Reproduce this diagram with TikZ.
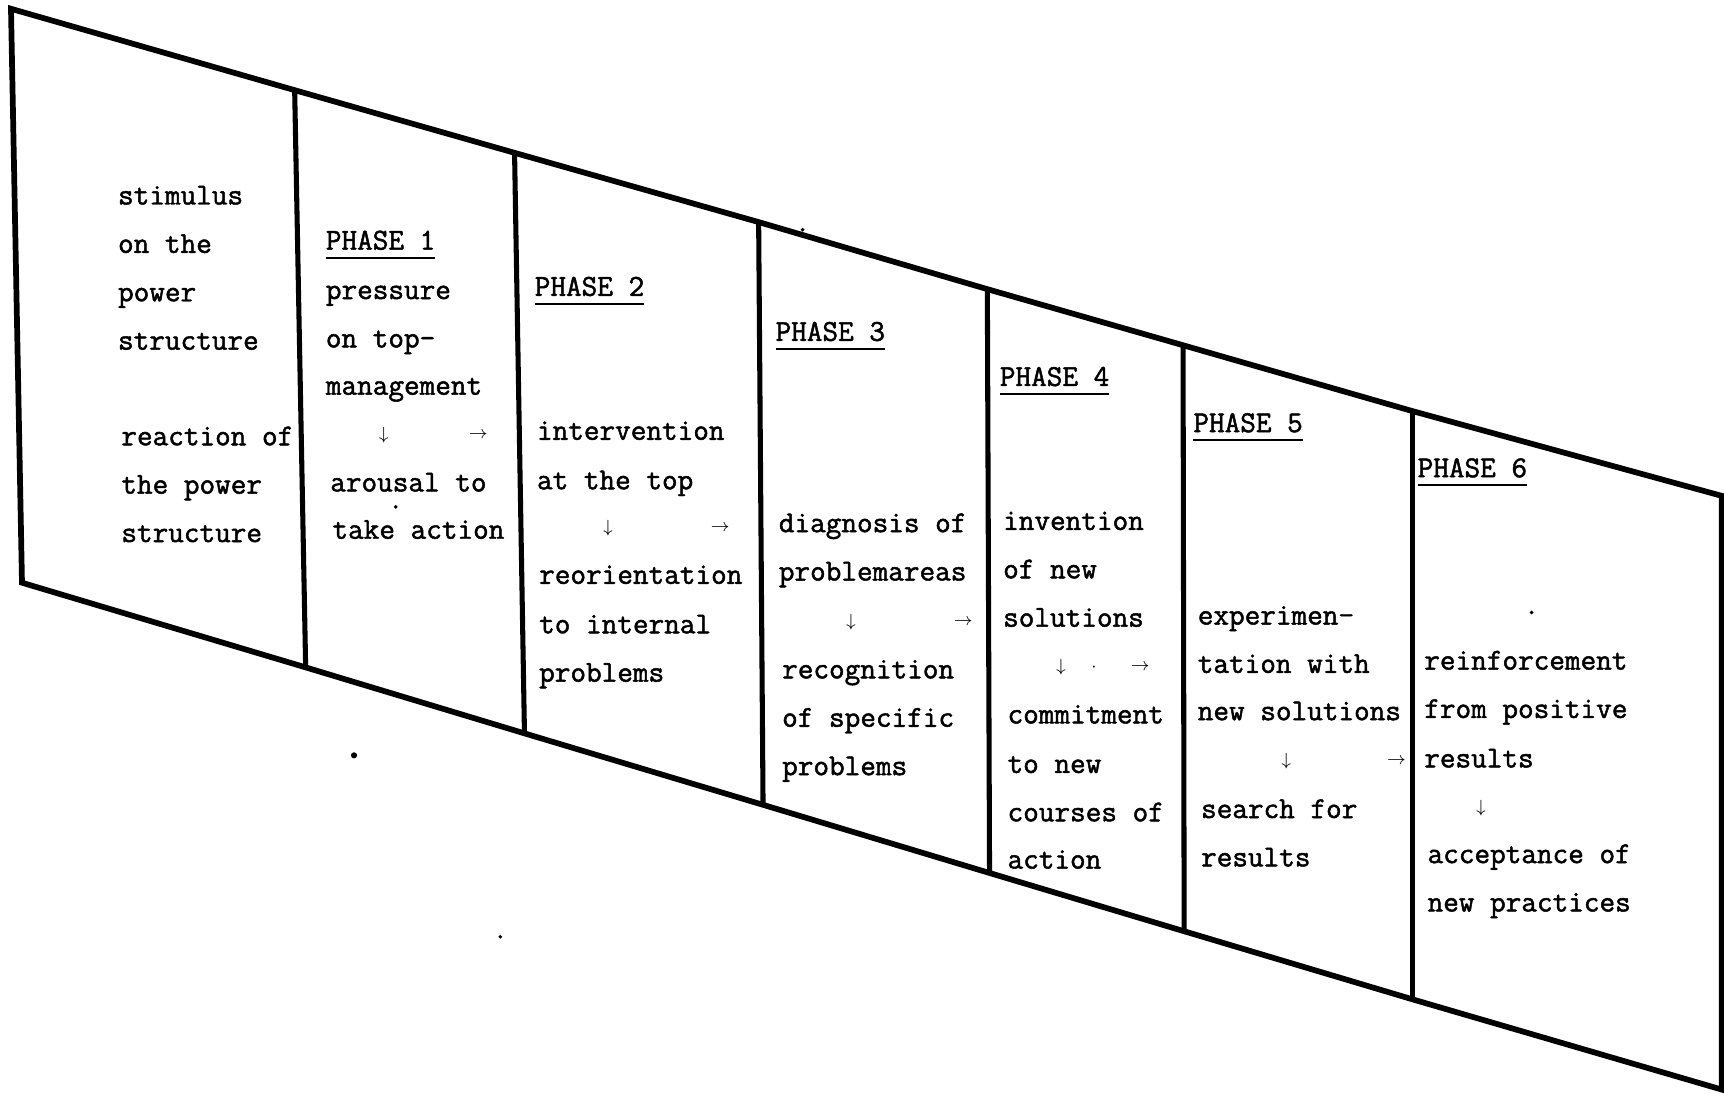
\documentclass[tikz,border=0pt]{standalone}
\usepackage{fontspec}
\newfontfamily\typew[FakeBold=1.6]{Latin Modern Mono}
\newcommand\phaseul[1]{\setbox0\hbox{#1}\rlap{\rule[-4.2pt]{\wd0}{1pt}}\box0}
\begin{document}
\begin{tikzpicture}[x=0.5pt,y=-0.5pt,
  frame/.style={line width=2.6pt, line join=miter},
  divider/.style={line width=2.3pt},
  txt/.style={anchor=base west, inner sep=0pt, font=\typew\fontsize{13.8pt}{22pt}\selectfont},
  phase/.style={txt},
  arr/.style={anchor=center, inner sep=0pt, font=\fontsize{8.5pt}{9pt}\selectfont},
  speck/.style={fill=black, draw=none}]
\useasboundingbox (0,0) rectangle (1568,999);
\clip (0,0) rectangle (1568,999);
% frame corners
\coordinate (t0) at (10,8);
\coordinate (t1) at (268,82);
\coordinate (t2) at (468,139);
\coordinate (t3) at (690,202);
\coordinate (t4) at (898,263);
\coordinate (t5) at (1076,314);
\coordinate (t6) at (1285,374);
\coordinate (t7) at (1566,451);
\coordinate (b0) at (20,530);
\coordinate (b1) at (278,607);
\coordinate (b2) at (477,667);
\coordinate (b3) at (694,732);
\coordinate (b4) at (900,794);
\coordinate (b5) at (1077,847);
\coordinate (b6) at (1285,909);
\coordinate (b7) at (1566,991);
\draw[frame] (t0) -- (t1) -- (t2) -- (t3) -- (t4) -- (t5) -- (t6) -- (t7)
  -- (b7) -- (b6) -- (b5) -- (b4) -- (b3) -- (b2) -- (b1) -- (b0) -- cycle;
\foreach \i in {1,...,6} \draw[divider] (t\i) -- (b\i);
% column 0
\node[txt] (c0a) at (107,186) {stimulus};
\node[txt] (c0b) at (107,230) {on the};
\node[txt] (c0c) at (107,274) {power};
\node[txt] (c0d) at (107,318) {structure};
\node[txt] (c0e) at (110,405) {reaction of};
\node[txt] (c0f) at (110,449) {the power};
\node[txt] (c0g) at (110,493) {structure};
% column 1
\node[phase] (p1) at (296,227) {\phaseul{PHASE 1}};
\node[txt] (c1a) at (296,272) {pressure};
\node[txt] (c1b) at (296,316) {on top-};
\node[txt] (c1c) at (296,359) {management};
\node[arr] (a1d) at (349,396) {$\downarrow$};
\node[arr] (a1r) at (435,396) {$\rightarrow$};
\node[txt] (c1d) at (300,447) {arousal to};
\node[txt] (c1e) at (302,490) {take action};
% column 2
\node[phase] (p2) at (486,269) {\phaseul{PHASE 2}};
\node[txt] (c2a) at (488,400) {intervention};
\node[txt] (c2b) at (488,445) {at the top};
\node[arr] (a2d) at (553,480) {$\downarrow$};
\node[arr] (a2r) at (655,480) {$\rightarrow$};
\node[txt] (c2c) at (490,531) {reorientation};
\node[txt] (c2d) at (490,576) {to internal};
\node[txt] (c2e) at (490,620) {problems};
% column 3
\node[phase] (p3) at (705,310) {\phaseul{PHASE 3}};
\node[txt] (c3a) at (708,484) {diagnosis of};
\node[txt] (c3b) at (708,528) {problemareas};
\node[arr] (a3d) at (774,566) {$\downarrow$};
\node[arr] (a3r) at (876,566) {$\rightarrow$};
\node[txt] (c3c) at (711,617) {recognition};
\node[txt] (c3d) at (711,661) {of specific};
\node[txt] (c3e) at (711,705) {problems};
% column 4
\node[phase] (p4) at (909,351) {\phaseul{PHASE 4}};
\node[txt] (c4a) at (912,482) {invention};
\node[txt] (c4b) at (912,526) {of new};
\node[txt] (c4c) at (912,570) {solutions};
\node[arr] (a4d) at (965,607) {$\downarrow$};
\node[arr] (a4m) at (995,607) {$\cdot$};
\node[arr] (a4r) at (1037,607) {$\rightarrow$};
\node[txt] (c4d) at (916,658) {commitment};
\node[txt] (c4e) at (916,703) {to new};
\node[txt] (c4f) at (916,747) {courses of};
\node[txt] (c4g) at (916,790) {action};
% column 5
\node[phase] (p5) at (1085,393) {\phaseul{PHASE 5}};
\node[txt] (c5a) at (1089,568) {experimen-};
\node[txt] (c5b) at (1089,612) {tation with};
\node[txt] (c5c) at (1089,655) {new solutions};
\node[arr] (a5d) at (1170,692) {$\downarrow$};
\node[arr] (a5r) at (1270,692) {$\rightarrow$};
\node[txt] (c5d) at (1092,744) {search for};
\node[txt] (c5e) at (1092,788) {results};
% column 6
\node[phase] (p6) at (1289,434) {\phaseul{PHASE 6}};
\node[txt] (c6a) at (1295,609) {reinforcement};
\node[txt] (c6b) at (1295,653) {from positive};
\node[txt] (c6c) at (1295,698) {results};
\node[arr] (a6d) at (1347,735) {$\downarrow$};
\node[txt] (c6d) at (1298,785) {acceptance of};
\node[txt] (c6e) at (1298,829) {new practices};
% specks
\fill[speck] (322,687) circle[radius=1.4pt];
\fill[speck] (455,852) circle[radius=0.9pt];
\fill[speck] (1393,557) circle[radius=0.9pt];
\fill[speck] (360,461) circle[radius=0.9pt];
\fill[speck] (730,209) circle[radius=0.9pt];
\end{tikzpicture}
\end{document}
